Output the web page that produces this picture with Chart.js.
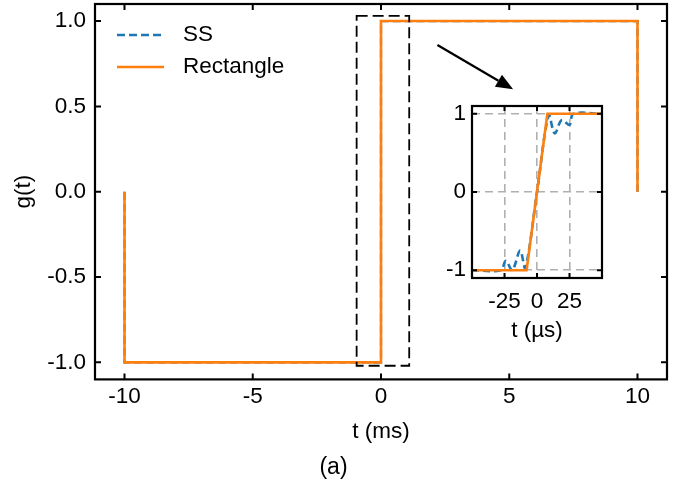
<!DOCTYPE html>
<html>
<head>
<meta charset="utf-8">
<title>g(t) - SS vs Rectangle</title>
<script src="https://cdn.jsdelivr.net/npm/chart.js"></script>
<style>
  html, body { margin: 0; padding: 0; background: #fff; }
  #wrap { position: relative; width: 688px; height: 487px; }
  #main { position: absolute; left: 0; top: 0; }
  #inset { position: absolute; left: 430px; top: 100px; }
</style>
</head>
<body>
<div id="wrap">
  <canvas id="main" width="688" height="487"></canvas>
  <canvas id="inset" width="180" height="250"></canvas>
</div>
<script>
// main panel, t in ms
const mainT = [-10, -10, 0, 0, 10, 10];
const rectG = [0, -1, -1, 1, 1, 0];
const ssG = [0, -1, -1, 1, 1, 0];
const mainXTicks = [-10, -5, 0, 5, 10];
const mainYTicks = [-1, -0.5, 0, 0.5, 1];

// inset, t in µs
const zoomRectT = [-50, -8, 8, 50];
const zoomRectG = [-1, -1, 1, 1];
const zoomSsT = [-50, -28, -24, -19, -13, -9, 0, 9, 13.6, 19, 25, 28, 50];
const zoomSsG = [-1, -1, -0.88, -1, -0.75, -0.97, 0, 0.98, 0.75, 0.92, 0.86, 1, 1];
const insetXTicks = [-25, 0, 25];
const insetYTicks = [-1, 0, 1];

// dashed zoom box + arrow, in main panel data units
const boxT = [-0.95, 1.1];
const boxG = [-1.02, 1.03];
const arrowT = [2.2, 5.15];
const arrowG = [0.86, 0.6];

const FONT = '"Liberation Sans", Arial, sans-serif';
const BLUE = '#1f77b4';
const ORANGE = '#ff7f0e';
Chart.defaults.font.family = FONT;
Chart.defaults.font.size = 22.5;
Chart.defaults.color = '#000';

function pts(xs, ys) {
  return xs.map((x, i) => ({ x: x, y: ys[i] }));
}
function fixTicks(list) {
  return s => { s.ticks = list.map(v => ({ value: v })); };
}
// fixed axis size, no extra label overflow padding
function fitX(h) {
  return s => { s.height = h; s.paddingLeft = 0; s.paddingRight = 0; };
}
function fitY(w) {
  return s => { s.width = w; s.paddingTop = 0; s.paddingBottom = 0; };
}

// box frame with inward ticks on all four sides
const frameTicks = {
  id: 'frameTicks',
  afterDatasetsDraw(chart, args, opts) {
    const { ctx, chartArea: a, scales: { x, y } } = chart;
    const len = opts.len || 6;
    ctx.save();
    ctx.strokeStyle = '#000';
    ctx.lineWidth = 2;
    ctx.beginPath();
    x.ticks.forEach(t => {
      const px = x.getPixelForValue(t.value);
      ctx.moveTo(px, a.bottom); ctx.lineTo(px, a.bottom - len);
      ctx.moveTo(px, a.top); ctx.lineTo(px, a.top + len);
    });
    y.ticks.forEach(t => {
      const py = y.getPixelForValue(t.value);
      ctx.moveTo(a.left, py); ctx.lineTo(a.left + len, py);
      ctx.moveTo(a.right, py); ctx.lineTo(a.right - len, py);
    });
    ctx.stroke();
    ctx.lineWidth = 2.2;
    ctx.strokeRect(a.left, a.top, a.width, a.height);
    ctx.restore();
  }
};

const legendBox = {
  id: 'legendBox',
  afterDraw(chart) {
    const { ctx, chartArea: a } = chart;
    ctx.save();
    ctx.font = '22.5px ' + FONT;
    ctx.textBaseline = 'middle';
    chart.data.datasets.forEach((ds, i) => {
      const yy = a.top + 31 + i * 32;
      ctx.strokeStyle = ds.borderColor;
      ctx.lineWidth = ds.borderWidth;
      ctx.setLineDash(ds.borderDash || []);
      ctx.beginPath();
      ctx.moveTo(a.left + 22, yy);
      ctx.lineTo(a.left + 69, yy);
      ctx.stroke();
      ctx.setLineDash([]);
      ctx.fillStyle = '#000';
      ctx.fillText(ds.label, a.left + 88, yy);
    });
    ctx.restore();
  }
};

const zoomMarks = {
  id: 'zoomMarks',
  afterDraw(chart) {
    const { ctx, scales: { x, y } } = chart;
    ctx.save();
    ctx.strokeStyle = '#000';
    ctx.lineWidth = 1.8;
    ctx.setLineDash([11, 5]);
    const x0 = x.getPixelForValue(boxT[0]), x1 = x.getPixelForValue(boxT[1]);
    const y0 = y.getPixelForValue(boxG[1]), y1 = y.getPixelForValue(boxG[0]);
    ctx.strokeRect(x0, y0, x1 - x0, y1 - y0);
    ctx.setLineDash([]);

    // arrow
    const ax = x.getPixelForValue(arrowT[0]), ay = y.getPixelForValue(arrowG[0]);
    const bx = x.getPixelForValue(arrowT[1]), by = y.getPixelForValue(arrowG[1]);
    const ang = Math.atan2(by - ay, bx - ax);
    const hl = 17, hw = 7;
    const ex = bx - hl * Math.cos(ang), ey = by - hl * Math.sin(ang);
    ctx.lineWidth = 2.2;
    ctx.beginPath();
    ctx.moveTo(ax, ay);
    ctx.lineTo(ex, ey);
    ctx.stroke();
    ctx.fillStyle = '#000';
    ctx.beginPath();
    ctx.moveTo(bx, by);
    ctx.lineTo(ex + hw * Math.sin(ang), ey - hw * Math.cos(ang));
    ctx.lineTo(ex - hw * Math.sin(ang), ey + hw * Math.cos(ang));
    ctx.closePath();
    ctx.fill();
    ctx.restore();
  }
};

new Chart(document.getElementById('main'), {
  type: 'line',
  data: {
    datasets: [
      { label: 'SS', data: pts(mainT, ssG), borderColor: BLUE, borderWidth: 2.3,
        borderDash: [8, 4], pointRadius: 0, order: 1 },
      { label: 'Rectangle', data: pts(mainT, rectG), borderColor: ORANGE, borderWidth: 2.6,
        pointRadius: 0, order: 0 }
    ]
  },
  options: {
    responsive: false,
    animation: false,
    events: [],
    layout: { padding: { top: 4, right: 21, left: 0, bottom: 0 } },
    plugins: {
      legend: { display: false },
      tooltip: { enabled: false },
      title: { display: true, text: '(a)', position: 'bottom', font: { size: 23, weight: 'normal' },
               padding: { top: 0, bottom: 6 } },
      frameTicks: { len: 6 }
    },
    scales: {
      x: {
        type: 'linear', min: -11.15, max: 11.15,
        afterBuildTicks: fixTicks(mainXTicks),
        afterFit: fitX(74),
        grid: { display: false, drawTicks: false },
        border: { display: false },
        ticks: { padding: 4, callback: v => String(v) },
        title: { display: true, text: 't (ms)', padding: { top: 0, bottom: 8 } }
      },
      y: {
        type: 'linear', min: -1.1, max: 1.1,
        afterBuildTicks: fixTicks(mainYTicks),
        afterFit: fitY(95),
        grid: { display: false, drawTicks: false },
        border: { display: false },
        ticks: { padding: 9, callback: v => v.toFixed(1) },
        title: { display: true, text: 'g(t)', padding: { top: 10, bottom: 0 } }
      }
    }
  },
  plugins: [frameTicks, legendBox, zoomMarks]
});

new Chart(document.getElementById('inset'), {
  type: 'line',
  data: {
    datasets: [
      { label: 'SS', data: pts(zoomSsT, zoomSsG), borderColor: BLUE, borderWidth: 2.6,
        borderDash: [7, 4], pointRadius: 0, tension: 0.35, order: 1 },
      { label: 'Rectangle', data: pts(zoomRectT, zoomRectG), borderColor: ORANGE, borderWidth: 2.6,
        pointRadius: 0, order: 0 }
    ]
  },
  options: {
    responsive: false,
    animation: false,
    events: [],
    layout: { padding: { top: 6, right: 8, left: 0, bottom: 0 } },
    plugins: {
      legend: { display: false },
      tooltip: { enabled: false },
      frameTicks: { len: 5 }
    },
    scales: {
      x: {
        type: 'linear', min: -50, max: 50,
        afterBuildTicks: fixTicks(insetXTicks),
        afterFit: fitX(72),
        grid: { color: '#b0b0b0', lineWidth: 1.6, drawTicks: false },
        border: { display: false, dash: [8, 5] },
        ticks: { padding: 10, callback: v => String(v) },
        title: { display: true, text: 't (µs)', padding: { top: 0, bottom: 6 } }
      },
      y: {
        type: 'linear', min: -1.1, max: 1.1,
        afterBuildTicks: fixTicks(insetYTicks),
        afterFit: fitY(42),
        grid: { color: '#b0b0b0', lineWidth: 1.6, drawTicks: false },
        border: { display: false, dash: [8, 5] },
        ticks: { padding: 6, callback: v => String(v) }
      }
    }
  },
  plugins: [frameTicks]
});
</script>
</body>
</html>
